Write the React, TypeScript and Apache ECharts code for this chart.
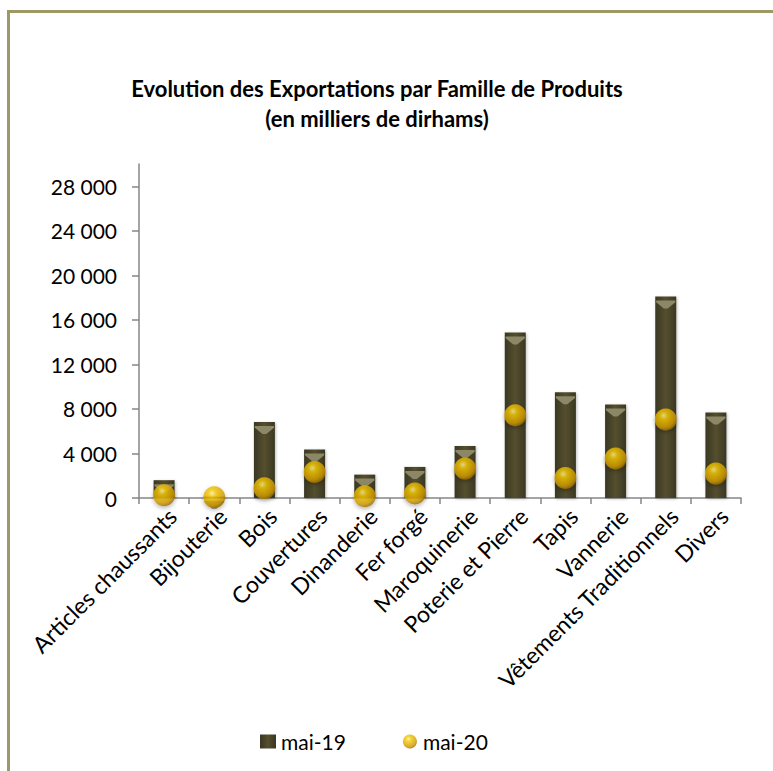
import React, { useEffect, useRef } from "react";
import * as echarts from "echarts";

const categories = [
  "Articles chaussants",
  "Bijouterie",
  "Bois",
  "Couvertures",
  "Dinanderie",
  "Fer forgé",
  "Maroquinerie",
  "Poterie et Pierre",
  "Tapis",
  "Vannerie",
  "Vêtements Traditionnels",
  "Divers",
];
const mai19 = [1600, 120, 6830, 4350, 2100, 2790, 4670, 14870, 9500, 8390, 18100, 7680];
const mai20 = [250, 60, 870, 2340, 150, 400, 2640, 7430, 1800, 3540, 7050, 2190];
const yTicks = [0, 4000, 8000, 12000, 16000, 20000, 24000, 28000];
const titleLines = ["Evolution des Exportations par Famille de Produits", "(en milliers de dirhams)"];
const seriesNames = ["mai-19", "mai-20"];

const FONT = "Lato, 'Open Sans', sans-serif";

export default function App() {
  const ref = useRef<HTMLDivElement>(null);
  useEffect(() => {
    document.body.style.margin = "0";
    if (!ref.current) return;
    const chart = echarts.init(ref.current, null, { renderer: "svg" });
    const barColor = new echarts.graphic.LinearGradient(0, 0, 1, 0, [
      { offset: 0, color: "#3a3723" },
      { offset: 0.5, color: "#554f2e" },
      { offset: 1, color: "#3a3723" },
    ]);
    const ballColor = new echarts.graphic.RadialGradient(0.4, 0.32, 0.72, [
      { offset: 0, color: "#fff3a0" },
      { offset: 0.25, color: "#f5c800" },
      { offset: 0.75, color: "#d09a00" },
      { offset: 1, color: "#8f6500" },
    ]);
    chart.setOption({
      animation: false,
      backgroundColor: "#ffffff",
      textStyle: { fontFamily: FONT },
      title: {
        text: titleLines.join("\n"),
        left: 372,
        textAlign: "center",
        top: 68,
        textStyle: { fontFamily: FONT, fontSize: 22, fontWeight: "bold", color: "#000", lineHeight: 30 },
      },
      legend: {
        left: 255,
        top: 726,
        itemWidth: 16,
        itemHeight: 14,
        itemGap: 57,
        textStyle: { fontFamily: FONT, fontSize: 21, color: "#000" },
        data: [
          { name: seriesNames[0], icon: "rect" },
          { name: seriesNames[1], icon: "circle" },
        ],
      },
      grid: { left: 139, right: 32, top: 164, bottom: 273, containLabel: false },
      xAxis: {
        type: "category",
        data: categories,
        axisLine: { lineStyle: { color: "#868686", width: 1.5 } },
        axisTick: { show: true, length: 6, lineStyle: { color: "#868686", width: 1.5 } },
        axisLabel: {
          rotate: 45,
          fontSize: 23,
          color: "#000",
          fontFamily: FONT,
          margin: 6,
          interval: 0,
          align: "right",
          verticalAlign: "top",
        },
      },
      yAxis: {
        type: "value",
        min: 0,
        max: 30000,
        interval: 2000,
        splitLine: { show: false },
        axisLine: { show: true, lineStyle: { color: "#868686", width: 1.5 } },
        axisTick: { show: true, length: 7, inside: false, customValues: yTicks, lineStyle: { color: "#868686", width: 1.5 } },
        axisLabel: {
          fontSize: 21,
          color: "#000",
          fontFamily: FONT,
          margin: 22,
          customValues: yTicks,
          formatter: (v: number) => {
            const s = String(Math.round(v));
            return s.length > 3 ? s.slice(0, s.length - 3) + " " + s.slice(-3) : s;
          },
        },
      },
      series: [
        {
          name: seriesNames[0],
          type: "bar",
          data: mai19,
          barWidth: 21,
          barGap: "-100%",
          itemStyle: {
            color: barColor,
            shadowColor: "rgba(0,0,0,0.25)",
            shadowBlur: 3,
            shadowOffsetX: 1,
            shadowOffsetY: 1,
          },
          z: 2,
        },
        {
          name: "cap",
          type: "pictorialBar",
          data: mai19,
          barWidth: 21,
          barGap: "-100%",
          symbol: "path://M0,0 L20,0 L20,2 L12,9 L8,9 L0,2 Z",
          symbolSize: [19, 8],
          symbolPosition: "end",
          symbolOffset: [0, "50%"],
          itemStyle: { color: "#8c8766" },
          legendHoverLink: false,
          z: 3,
          tooltip: { show: false },
        },
        {
          name: seriesNames[1],
          type: "scatter",
          data: mai20,
          symbol: "circle",
          symbolSize: 22,
          itemStyle: {
            color: ballColor,
            shadowColor: "rgba(0,0,0,0.35)",
            shadowBlur: 4,
            shadowOffsetY: 2,
          },
          z: 5,
        },
      ],
      graphic: [
        { type: "line", shape: { x1: 8.5, y1: 11, x2: 8.5, y2: 771 }, style: { stroke: "#9e9864", lineWidth: 3 } },
        { type: "line", shape: { x1: 7, y1: 11.5, x2: 773, y2: 11.5 }, style: { stroke: "#9e9864", lineWidth: 3 } },
      ],
    });
    return () => chart.dispose();
  }, []);
  return <div ref={ref} style={{ width: 773, height: 771 }} />;
}
